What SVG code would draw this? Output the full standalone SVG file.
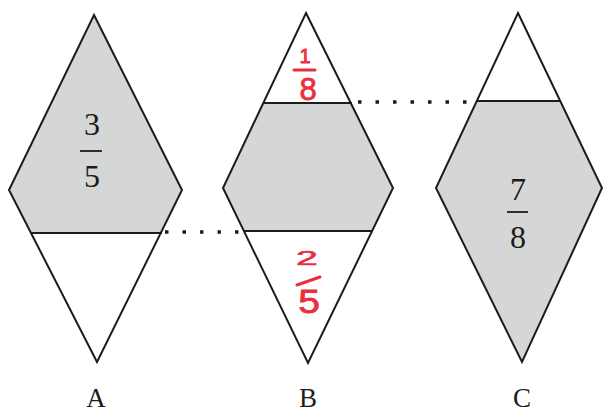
<svg xmlns="http://www.w3.org/2000/svg" width="604" height="412" viewBox="0 0 604 412">
  <style>
    .shade { fill: #d5d6d6; stroke: none; }
    .outline { fill: none; stroke: #1c1c1c; stroke-width: 2; stroke-linejoin: miter; }
    .cut { stroke: #1c1c1c; stroke-width: 2; }
    .dots { stroke: #1c1c1c; stroke-width: 3.5; stroke-dasharray: 3.5 14; fill: none; }
    .lbl { font-family: "Liberation Serif", "Times New Roman", serif; font-size: 27px; fill: #1c1c1c; text-anchor: middle; }
    .num { font-family: "Liberation Serif", "Times New Roman", serif; font-size: 32px; fill: #1c1c1c; text-anchor: middle; }
    .bar { stroke: #1c1c1c; stroke-width: 1.8; }
    .red { font-family: "Liberation Sans", "DejaVu Sans", sans-serif; fill: #ea2f3c; stroke: #ea2f3c; stroke-width: 0.8; text-anchor: middle; }
    .redbar { stroke: #ea2f3c; stroke-width: 3; stroke-linecap: round; }
  </style>
  <rect x="0" y="0" width="604" height="412" fill="#ffffff"/>

  <g id="connectors">
    <line class="dots" x1="165" y1="232" x2="244" y2="232"/>
    <line class="dots" x1="358" y1="102" x2="476" y2="102"/>
  </g>

  <g id="shapeA">
    <polygon class="shade" points="94,15 182,190 160.75,233 31,233 9,190"/>
    <polygon class="outline" points="94,15 182,190 97,362 9,190"/>
    <line class="cut" x1="31" y1="233" x2="162" y2="233"/>
    <text class="num" x="92" y="135">3</text>
    <line class="bar" x1="80" y1="151" x2="102" y2="151"/>
    <text class="num" x="92" y="187">5</text>
    <text class="lbl" x="96" y="407">A</text>
  </g>

  <g id="shapeB">
    <polygon class="shade" points="263.3,103 350.7,103 393,188 372.1,231 243.9,231 223,188"/>
    <polygon class="outline" points="306,13 393,188 308,363 223,188"/>
    <line class="cut" x1="263.3" y1="103" x2="352" y2="103"/>
    <line class="cut" x1="243.9" y1="231" x2="372.1" y2="231"/>
    <text class="red" x="305" y="63" font-size="20">1</text>
    <line class="redbar" x1="294" y1="70" x2="315" y2="70"/>
    <text class="red" x="308" y="100" font-size="31">8</text>
    <text class="red" transform="translate(307,265) scale(1.4,0.75)" font-size="28">2</text>
    <line class="redbar" x1="297" y1="285" x2="320" y2="277"/>
    <text class="red" transform="translate(309,313) scale(1.15,1)" font-size="34">5</text>
    <text class="lbl" x="308" y="407">B</text>
  </g>

  <g id="shapeC">
    <polygon class="shade" points="476.8,101 560.2,101 602,188 522,362 436,188"/>
    <polygon class="outline" points="518,13 602,188 522,362 436,188"/>
    <line class="cut" x1="476.8" y1="101" x2="560.2" y2="101"/>
    <text class="num" x="518" y="200">7</text>
    <line class="bar" x1="507" y1="212" x2="528" y2="212"/>
    <text class="num" x="518" y="248">8</text>
    <text class="lbl" x="522" y="407">C</text>
  </g>
</svg>
